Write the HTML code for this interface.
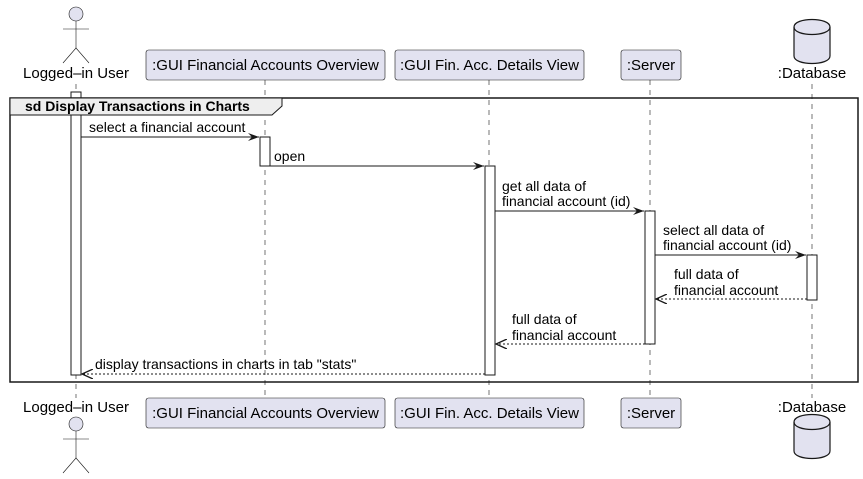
<!DOCTYPE html>
<html><head><meta charset="utf-8"><style>html,body{margin:0;padding:0;background:#fff}svg{display:block}text{font-family:"Liberation Sans",sans-serif;fill:#000}</style></head><body>
<svg width="863" height="479" viewBox="0 0 863 479" xmlns="http://www.w3.org/2000/svg">
<defs>
<marker id="a" markerWidth="12" markerHeight="10" refX="11" refY="5" orient="auto" markerUnits="userSpaceOnUse"><path d="M0,1 L11,5 L0,9 L4,5 Z" fill="#181818"/></marker>
<marker id="o" markerWidth="12" markerHeight="10" refX="11" refY="5" orient="auto" markerUnits="userSpaceOnUse"><path d="M0,0 L11,5 L0,10" fill="none" stroke="#181818" stroke-width="1.3"/></marker>
</defs>
<g stroke="#181818" stroke-width="0.6" stroke-dasharray="5,5">
<line x1="76" y1="84" x2="76" y2="398"/><line x1="265" y1="80" x2="265" y2="398"/><line x1="489" y1="80" x2="489" y2="398"/><line x1="650" y1="80" x2="650" y2="398"/><line x1="812" y1="84" x2="812" y2="398"/>
</g>
<g fill="#E2E2F0" stroke="#181818" stroke-width="0.6">
<circle cx="76" cy="14" r="7"/><line x1="76" y1="21" x2="76" y2="48"/><line x1="63" y1="29" x2="89" y2="29"/><polyline points="63,63 76,48 89,63" fill="none"/>
<circle cx="76" cy="424" r="7"/><line x1="76" y1="431" x2="76" y2="458"/><line x1="63" y1="439" x2="89" y2="439"/><polyline points="63,473 76,458 89,473" fill="none"/>
</g>
<g font-size="15" text-anchor="middle"><text x="76" y="78">Logged–in User</text><text x="76" y="412">Logged–in User</text>
<text x="812" y="78">:Database</text><text x="812" y="412">:Database</text></g>
<g fill="#E2E2F0" stroke="#181818" stroke-width="1.2">
<path d="M794,27 C794,17 830,17 830,27 L830,56 C830,66 794,66 794,56 Z"/><path d="M794,27 C794,37 830,37 830,27" fill="none"/>
<path d="M794,422 C794,412 830,412 830,422 L830,451 C830,461 794,461 794,451 Z"/><path d="M794,422 C794,432 830,432 830,422" fill="none"/>
</g>
<g fill="#E2E2F0" stroke="#181818" stroke-width="0.6">
<rect x="146" y="50" width="239" height="30" rx="2.5"/><rect x="395" y="50" width="189" height="30" rx="2.5"/><rect x="621" y="50" width="60" height="30" rx="2.5"/>
<rect x="146" y="398" width="239" height="30" rx="2.5"/><rect x="395" y="398" width="189" height="30" rx="2.5"/><rect x="621" y="398" width="60" height="30" rx="2.5"/>
</g>
<g font-size="15" text-anchor="middle">
<text x="265.5" y="70">:GUI Financial Accounts Overview</text><text x="489.5" y="70">:GUI Fin. Acc. Details View</text><text x="651" y="70">:Server</text>
<text x="265.5" y="418">:GUI Financial Accounts Overview</text><text x="489.5" y="418">:GUI Fin. Acc. Details View</text><text x="651" y="418">:Server</text>
</g>
<g fill="#fff" stroke="#181818" stroke-width="1">
<rect x="71" y="92" width="10" height="283"/><rect x="260" y="137" width="10" height="29"/><rect x="485" y="166" width="10" height="209"/><rect x="645" y="211" width="10" height="133"/><rect x="807" y="255" width="10" height="45"/>
</g>
<rect x="10" y="98" width="848" height="284" fill="none" stroke="#181818" stroke-width="1.5"/>
<path d="M10,98 L282,98 L282,106 L272,115 L10,115 Z" fill="#EEEEEE" stroke="#181818" stroke-width="1"/>
<text x="25" y="111" font-size="14" font-weight="bold">sd Display Transactions in Charts</text>
<g stroke="#181818" stroke-width="1" fill="none">
<line x1="81" y1="137" x2="259" y2="137" marker-end="url(#a)"/>
<line x1="270" y1="166" x2="484" y2="166" marker-end="url(#a)"/>
<line x1="495" y1="211" x2="644" y2="211" marker-end="url(#a)"/>
<line x1="655" y1="255" x2="806" y2="255" marker-end="url(#a)"/>
<line x1="807" y1="299" x2="656" y2="299" stroke-dasharray="2,2" marker-end="url(#o)"/>
<line x1="645" y1="344" x2="496" y2="344" stroke-dasharray="2,2" marker-end="url(#o)"/>
<line x1="485" y1="374" x2="82" y2="374" stroke-dasharray="2,2" marker-end="url(#o)"/>
</g>
<g font-size="14">
<text x="89" y="132">select a financial account</text>
<text x="274" y="161">open</text>
<text x="502" y="191">get all data of</text><text x="502" y="206">financial account (id)</text>
<text x="663" y="235">select all data of</text><text x="663" y="250">financial account (id)</text>
<text x="674" y="279">full data of</text><text x="674" y="295">financial account</text>
<text x="512" y="324">full data of</text><text x="512" y="340">financial account</text>
<text x="95" y="369">display transactions in charts in tab "stats"</text>
</g>
</svg>
</body></html>
